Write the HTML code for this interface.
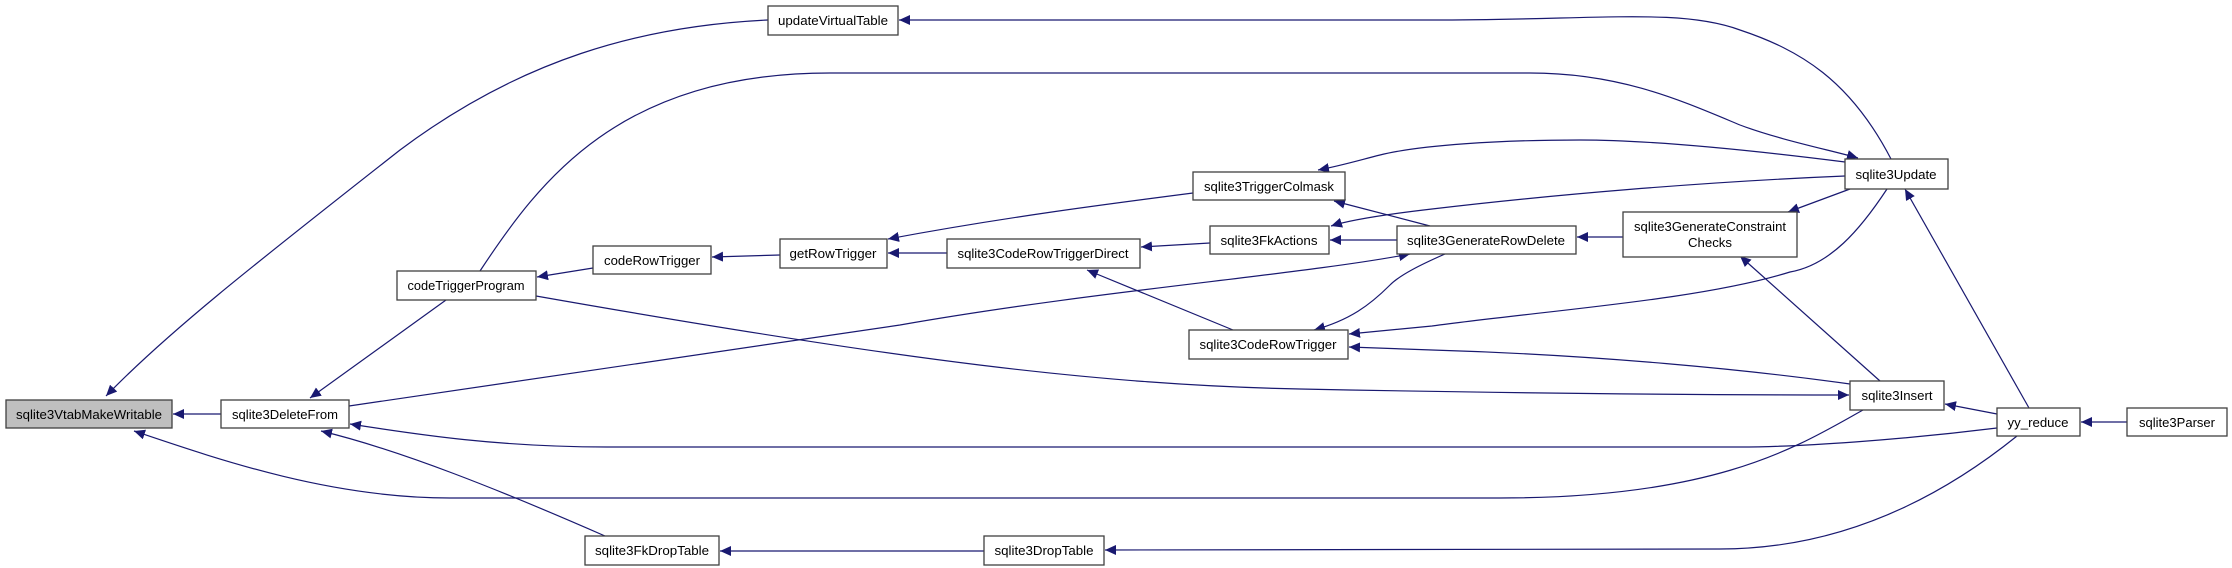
<!DOCTYPE html>
<html><head><meta charset="utf-8"><style>
html,body{margin:0;padding:0;background:#fff;}
svg{display:block;}
text{font-family:"Liberation Sans",sans-serif;font-size:13px;fill:#000;}
</style></head><body>
<svg width="2232" height="568" viewBox="0 0 2232 568" xmlns="http://www.w3.org/2000/svg">
<defs>
<marker id="a" markerUnits="userSpaceOnUse" markerWidth="12" markerHeight="10" refX="11" refY="5" orient="auto">
<path d="M0,0 L11,5 L0,10 z" fill="#191970"/>
</marker>
</defs>
<g fill="none" stroke="#191970" stroke-width="1.2" marker-end="url(#a)">
<path d="M768,20 C640,26 520,60 400,150 C260,260 170,330 106,396"/>
<path d="M221,414 L173,414"/>
<path d="M1863,410 C1800,445 1720,498 1500,498 L450,498 C330,498 220,460 134,431"/>
<path d="M480,271 C540,180 620,73 830,73 L1530,73 C1620,73 1680,100 1740,125 C1780,140 1830,150 1858,158"/>
<path d="M1891,159 C1850,80 1800,50 1740,30 C1680,8 1600,20 1432,20 L899,20"/>
<path d="M593,268 L537,277"/>
<path d="M780,255 L712,257"/>
<path d="M947,253 L888,253"/>
<path d="M1193,193 C1100,205 1000,218 888,239"/>
<path d="M1210,243 L1141,247"/>
<path d="M1397,240 L1330,240"/>
<path d="M1430,226 L1334,201"/>
<path d="M1845,162 C1750,150 1650,140 1580,140 C1500,140 1420,145 1380,155 C1360,160 1340,166 1318,170"/>
<path d="M1845,176 C1700,182 1550,195 1432,209 C1380,215 1350,220 1331,226"/>
<path d="M1850,189 L1788,212"/>
<path d="M1623,237 L1577,237"/>
<path d="M1880,381 L1740,256"/>
<path d="M2029,408 L1905,189"/>
<path d="M1997,414 L1945,404"/>
<path d="M2127,422 L2081,422"/>
<path d="M1997,428 C1900,440 1800,447 1740,447 L607,447 C500,447 420,435 350,424"/>
<path d="M349,406 C600,370 800,340 900,325 C1100,290 1300,275 1410,254"/>
<path d="M536,296 C900,360 1100,385 1300,389 C1500,393 1700,395 1849,395"/>
<path d="M1850,384 C1750,370 1600,355 1432,350 L1349,347"/>
<path d="M1887,189 C1860,230 1830,265 1790,272 C1700,300 1550,310 1432,326 L1349,334"/>
<path d="M1445,254 C1420,265 1400,275 1390,285 C1370,305 1350,320 1314,330"/>
<path d="M1233,330 L1087,270"/>
<path d="M446,300 L310,398"/>
<path d="M605,536 C500,490 400,450 321,431"/>
<path d="M984,551 L720,551"/>
<path d="M2017,436 C1950,490 1850,549 1720,549 L1105,550"/>
</g>
<g stroke="#404040" stroke-width="1.3" fill="#fff">
<rect x="6" y="400" width="166" height="28" fill="#bfbfbf"/>
<rect x="221" y="400" width="128" height="28"/>
<rect x="768" y="6" width="130" height="29"/>
<rect x="397" y="271" width="139" height="29"/>
<rect x="593" y="246" width="118" height="28"/>
<rect x="585" y="536" width="134" height="29"/>
<rect x="780" y="239" width="107" height="29"/>
<rect x="947" y="239" width="193" height="29"/>
<rect x="1193" y="172" width="152" height="28"/>
<rect x="1210" y="226" width="119" height="28"/>
<rect x="1397" y="226" width="179" height="28"/>
<rect x="1189" y="330" width="159" height="29"/>
<rect x="984" y="536" width="120" height="29"/>
<rect x="1845" y="159" width="103" height="30"/>
<rect x="1623" y="212" width="174" height="45"/>
<rect x="1850" y="381" width="94" height="29"/>
<rect x="1997" y="408" width="83" height="28"/>
<rect x="2127" y="408" width="100" height="28"/>
</g>
<g text-anchor="middle">
<text x="89" y="419" textLength="146" lengthAdjust="spacingAndGlyphs">sqlite3VtabMakeWritable</text>
<text x="285" y="419" textLength="106" lengthAdjust="spacingAndGlyphs">sqlite3DeleteFrom</text>
<text x="833" y="25" textLength="110" lengthAdjust="spacingAndGlyphs">updateVirtualTable</text>
<text x="466" y="290" textLength="117" lengthAdjust="spacingAndGlyphs">codeTriggerProgram</text>
<text x="652" y="265" textLength="96" lengthAdjust="spacingAndGlyphs">codeRowTrigger</text>
<text x="652" y="555" textLength="114" lengthAdjust="spacingAndGlyphs">sqlite3FkDropTable</text>
<text x="833" y="258" textLength="87" lengthAdjust="spacingAndGlyphs">getRowTrigger</text>
<text x="1043" y="258" textLength="171" lengthAdjust="spacingAndGlyphs">sqlite3CodeRowTriggerDirect</text>
<text x="1269" y="191" textLength="130" lengthAdjust="spacingAndGlyphs">sqlite3TriggerColmask</text>
<text x="1269" y="245" textLength="97" lengthAdjust="spacingAndGlyphs">sqlite3FkActions</text>
<text x="1486" y="245" textLength="158" lengthAdjust="spacingAndGlyphs">sqlite3GenerateRowDelete</text>
<text x="1268" y="349" textLength="137" lengthAdjust="spacingAndGlyphs">sqlite3CodeRowTrigger</text>
<text x="1044" y="555" textLength="99" lengthAdjust="spacingAndGlyphs">sqlite3DropTable</text>
<text x="1896" y="179" textLength="81" lengthAdjust="spacingAndGlyphs">sqlite3Update</text>
<text x="1710" y="231" textLength="152" lengthAdjust="spacingAndGlyphs">sqlite3GenerateConstraint</text>
<text x="1710" y="247" textLength="44" lengthAdjust="spacingAndGlyphs">Checks</text>
<text x="1897" y="400" textLength="71" lengthAdjust="spacingAndGlyphs">sqlite3Insert</text>
<text x="2038" y="427" textLength="61" lengthAdjust="spacingAndGlyphs">yy_reduce</text>
<text x="2177" y="427" textLength="76" lengthAdjust="spacingAndGlyphs">sqlite3Parser</text>
</g>
</svg>
</body></html>
